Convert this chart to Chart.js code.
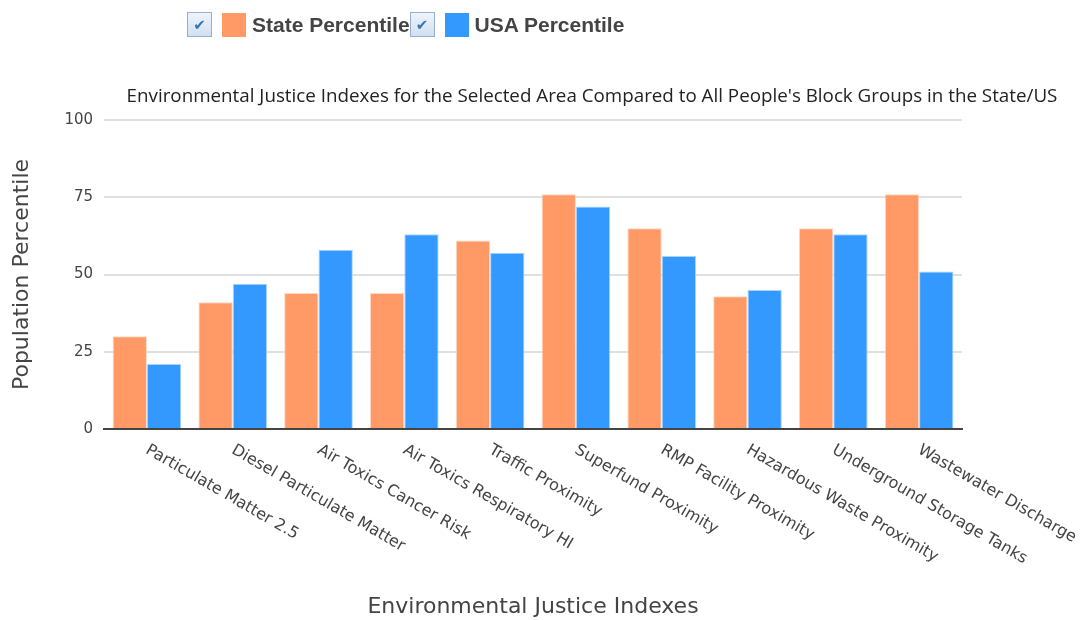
<!DOCTYPE html>
<html>
<head>
<meta charset="utf-8">
<script src="https://cdn.jsdelivr.net/npm/chart.js@4"></script>
<style>
  body { margin: 0; background: #fff; }
  #wrap { position: relative; width: 1087px; height: 620px; }
  #legend { position: absolute; left: 187px; top: 12px; display: flex; align-items: center;
            font: bold 21px "Liberation Sans", Arial, sans-serif; color: #444; }
  .item { display: flex; align-items: center; cursor: pointer; }
  .chk { width: 23px; height: 23px; border: 1px solid #9ab0c8; background: linear-gradient(#eef4fb, #cfe0f2);
         display: inline-flex; align-items: center; justify-content: center; color: #3b73b0;
         font: bold 15px "DejaVu Sans", sans-serif; box-sizing: content-box; }
  .sw { width: 24px; height: 24px; margin: 0 6px 0 10px; display: inline-block; }
</style>
</head>
<body>
<div id="wrap">
  <canvas id="ejChart" width="1087" height="620"></canvas>
  <div id="legend"></div>
</div>
<script>
// data
const categories = [
    'Particulate Matter 2.5',
    'Diesel Particulate Matter',
    'Air Toxics Cancer Risk',
    'Air Toxics Respiratory HI',
    'Traffic Proximity',
    'Superfund Proximity',
    'RMP Facility Proximity',
    'Hazardous Waste Proximity',
    'Underground Storage Tanks',
    'Wastewater Discharge'
];
const statePercentile = [30, 41, 44, 44, 61, 76, 65, 43, 65, 76];
const usaPercentile = [21, 47, 58, 63, 57, 72, 56, 45, 63, 51];
const yTicks = [0, 25, 50, 75, 100];

const chartTitle = "Environmental Justice Indexes for the Selected Area Compared to All People's Block Groups in the State/US";

// rotated category labels, drawn down-right from each tick
const slantLabels = {
    id: 'slantLabels',
    afterDraw(chart) {
        const ctx = chart.ctx;
        const x = chart.scales.x;
        ctx.save();
        ctx.font = '16px "DejaVu Sans", Verdana, sans-serif';
        ctx.fillStyle = '#444';
        ctx.textAlign = 'left';
        ctx.textBaseline = 'middle';
        chart.data.labels.forEach((lab, i) => {
            ctx.save();
            ctx.translate(x.getPixelForTick(i), x.top + 20);
            ctx.rotate(Math.PI / 6);
            ctx.fillText(lab, 0, 0);
            ctx.restore();
        });
        ctx.restore();
    }
};

// chart heading, sits a bit right of the plot centre like the original
const topTitle = {
    id: 'topTitle',
    afterDraw(chart) {
        const ctx = chart.ctx;
        ctx.save();
        ctx.font = '18.8px "Open Sans", sans-serif';
        ctx.fillStyle = '#222';
        ctx.textAlign = 'center';
        ctx.textBaseline = 'middle';
        ctx.fillText(chartTitle, 592, 97);
        ctx.restore();
    }
};

const ejChart = new Chart(document.getElementById('ejChart'), {
    type: 'bar',
    data: {
        labels: categories,
        datasets: [{
            label: 'State Percentile',
            data: statePercentile,
            backgroundColor: 'rgb(255, 153, 102)',
            borderColor: 'rgb(255, 214, 194)',
            borderWidth: 1
        }, {
            label: 'USA Percentile',
            data: usaPercentile,
            backgroundColor: 'rgb(51, 153, 255)',
            borderColor: 'rgb(170, 212, 255)',
            borderWidth: 1
        }]
    },
    options: {
        responsive: false,
        animation: false,
        layout: { padding: { top: 120, right: 125, left: 9, bottom: 0 } },
        datasets: { bar: { categoryPercentage: 0.8, barPercentage: 1.0 } },
        plugins: {
            legend: { display: false },
            title: { display: false },
            tooltip: { enabled: false }
        },
        scales: {
            x: {
                grid: { display: false },
                border: { color: '#444', width: 2 },
                ticks: { display: false },
                title: {
                    display: true,
                    text: 'Environmental Justice Indexes',
                    color: '#444',
                    font: { family: '"DejaVu Sans", Verdana, sans-serif', size: 22 },
                    padding: { top: 0, bottom: 0 }
                },
                afterFit(scale) { scale.height = 191; }
            },
            y: {
                min: 0,
                max: 100,
                afterBuildTicks(scale) { scale.ticks = yTicks.map(v => ({ value: v })); },
                grid: { color: '#e0e0e0', lineWidth: 2, drawTicks: false },
                border: { display: false },
                ticks: {
                    color: '#444',
                    padding: 11,
                    font: { family: '"DejaVu Sans", Verdana, sans-serif', size: 15 }
                },
                title: {
                    display: true,
                    text: 'Population Percentile',
                    color: '#444',
                    font: { family: '"DejaVu Sans", Verdana, sans-serif', size: 22 },
                    padding: { top: 0, bottom: 18 }
                }
            }
        }
    },
    plugins: [slantLabels, topTitle]
});

// html legend with checkboxes, built from the datasets
const legendBox = document.getElementById('legend');
ejChart.data.datasets.forEach((ds, i) => {
    const item = document.createElement('span');
    item.className = 'item';
    item.innerHTML = '<span class="chk">\u2714</span><span class="sw" style="background:' +
        ds.backgroundColor + '"></span>' + ds.label;
    item.onclick = () => {
        const vis = ejChart.isDatasetVisible(i);
        ejChart.setDatasetVisibility(i, !vis);
        item.querySelector('.chk').textContent = vis ? '' : '\u2714';
        ejChart.update();
    };
    legendBox.appendChild(item);
});
</script>
</body>
</html>
